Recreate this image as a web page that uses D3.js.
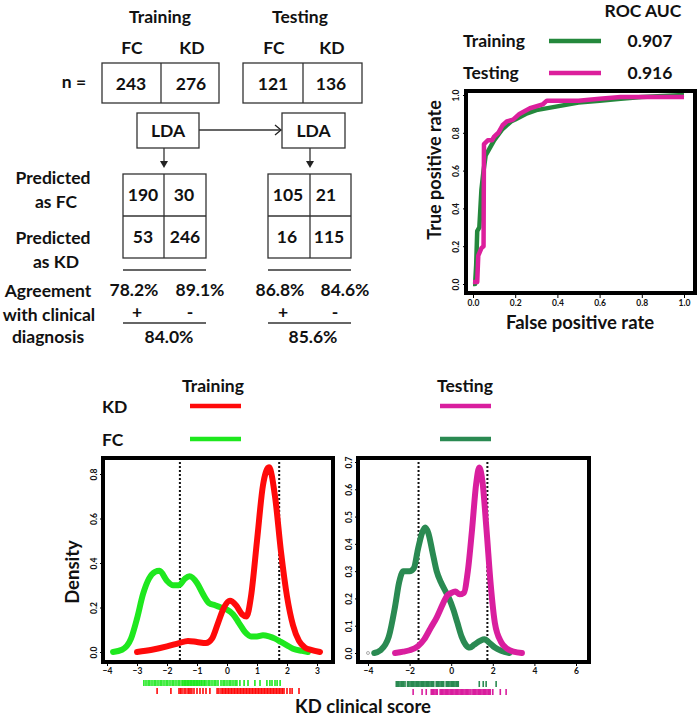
<!DOCTYPE html>
<html><head><meta charset="utf-8">
<script src="https://cdn.jsdelivr.net/npm/d3@7"></script>
<style>body{margin:0;background:#fff}text{font-family:Lato,"Open Sans",sans-serif;font-weight:bold;fill:#111}</style>
</head><body><svg id="c" width="700" height="716"></svg>
<script>
// ---------- data ----------
const groups = ["Training", "Testing"];
const classes = ["FC", "KD"];
const nCounts = [[243, 276], [121, 136]];
const confusion = [[[190, 30], [53, 246]], [[105, 21], [16, 115]]];
const agreement = [["78.2%", "89.1%"], ["86.8%", "84.6%"]];
const overall = ["84.0%", "85.6%"];
const rowLabels = [["Predicted", "as FC"], ["Predicted", "as KD"]];
const agreeLabel = ["Agreement", "with clinical", "diagnosis"];
const rocAUC = ["0.907", "0.916"];
const rocTicks = [0, 0.2, 0.4, 0.6, 0.8, 1.0];
const rocTrain = [[0,0],[0.01,0],[0.015,0.1],[0.02,0.28],[0.03,0.3],[0.04,0.5],[0.05,0.6],[0.06,0.68],[0.08,0.72],[0.1,0.76],[0.12,0.79],[0.14,0.82],[0.16,0.84],[0.18,0.86],[0.2,0.87],[0.25,0.9],[0.3,0.92],[0.4,0.94],[0.5,0.96],[0.6,0.97],[0.7,0.98],[0.8,0.99],[0.9,0.995],[1,1]];
const rocTest = [[0,0.01],[0.02,0.01],[0.025,0.15],[0.04,0.19],[0.05,0.2],[0.052,0.74],[0.07,0.76],[0.09,0.76],[0.1,0.78],[0.12,0.8],[0.14,0.84],[0.16,0.86],[0.19,0.87],[0.22,0.9],[0.27,0.93],[0.33,0.95],[0.35,0.97],[0.5,0.97],[0.6,0.98],[0.7,0.99],[1,0.99]];
const densTrainFC = [[-3.8,0],[-3.5,0.01],[-3.2,0.06],[-3.0,0.15],[-2.8,0.26],[-2.6,0.33],[-2.4,0.36],[-2.25,0.365],[-2.0,0.32],[-1.8,0.30],[-1.6,0.30],[-1.4,0.33],[-1.25,0.34],[-1.0,0.31],[-0.8,0.26],[-0.6,0.22],[-0.4,0.21],[-0.2,0.20],[0,0.19],[0.2,0.17],[0.4,0.13],[0.6,0.09],[0.8,0.07],[1.0,0.07],[1.2,0.075],[1.4,0.07],[1.6,0.06],[1.8,0.045],[2.0,0.03],[2.2,0.015],[2.5,0.005],[2.7,0]];
const densTrainKD = [[-3.0,0],[-2.5,0.01],[-2.0,0.025],[-1.6,0.04],[-1.3,0.05],[-1.0,0.045],[-0.7,0.04],[-0.5,0.06],[-0.3,0.13],[-0.1,0.2],[0.1,0.23],[0.3,0.21],[0.5,0.17],[0.65,0.16],[0.8,0.25],[1.0,0.5],[1.2,0.75],[1.4,0.83],[1.6,0.7],[1.8,0.45],[2.0,0.25],[2.2,0.12],[2.4,0.05],[2.6,0.02],[2.8,0.01],[3.1,0]];
const densTestFC = [[-3.7,0],[-3.4,0.01],[-3.0,0.06],[-2.7,0.17],[-2.5,0.26],[-2.3,0.30],[-2.0,0.30],[-1.8,0.31],[-1.6,0.38],[-1.4,0.44],[-1.25,0.46],[-1.1,0.44],[-0.9,0.37],[-0.7,0.30],[-0.5,0.26],[-0.3,0.23],[-0.1,0.2],[0.1,0.16],[0.3,0.11],[0.5,0.06],[0.7,0.03],[0.9,0.02],[1.1,0.03],[1.4,0.045],[1.6,0.05],[1.8,0.04],[2.1,0.02],[2.4,0.008],[2.8,0]];
const densTestKD = [[-2.7,0],[-2.3,0.005],[-2.0,0.01],[-1.6,0.025],[-1.3,0.05],[-1.0,0.09],[-0.7,0.13],[-0.4,0.18],[-0.2,0.21],[0.0,0.22],[0.2,0.225],[0.4,0.215],[0.6,0.22],[0.8,0.3],[1.0,0.45],[1.2,0.62],[1.35,0.68],[1.5,0.63],[1.7,0.45],[1.9,0.25],[2.1,0.11],[2.4,0.04],[2.7,0.015],[3.0,0.005],[3.4,0]];
const cutoffs = [-1.57, 1.74];
const rugTrainFC = [-2.77,-2.7,-2.63,-2.57,-2.5,-2.43,-2.37,-2.3,-2.23,-2.17,-2.1,-2.03,-1.97,-1.9,-1.83,-1.77,-1.7,-1.63,-1.57,-1.5,-1.47,-1.43,-1.4,-1.37,-1.33,-1.3,-1.27,-1.23,-1.2,-1.17,-1.13,-1.1,-1.07,-1.03,-1.0,-0.97,-0.93,-0.9,-0.85,-0.8,-0.75,-0.7,-0.63,-0.57,-0.5,-0.43,-0.37,-0.3,-0.2,-0.13,-0.07,0.0,0.07,0.13,0.2,0.27,0.33,0.43,0.57,0.7,0.93,1.1,1.33,1.43,1.5,1.6,1.67,1.77];
const rugTrainKD = [-2.33,-1.87,-1.6,-1.55,-1.5,-1.43,-1.37,-1.3,-1.27,-1.23,-1.17,-1.1,-1.0,-0.9,-0.8,-0.7,-0.57,-0.33,-0.27,-0.2,-0.15,-0.1,-0.05,0.0,0.05,0.1,0.15,0.2,0.25,0.3,0.35,0.4,0.45,0.5,0.55,0.6,0.65,0.7,0.75,0.8,0.85,0.9,0.95,1.0,1.05,1.1,1.15,1.2,1.25,1.3,1.35,1.4,1.45,1.5,1.55,1.6,1.65,1.7,1.75,1.8,1.85,1.9,2.0,2.1,2.17,2.4];
const rugTestFC = [-2.64,-2.58,-2.52,-2.46,-2.4,-2.34,-2.28,-2.22,-2.1,-2.04,-1.98,-1.92,-1.86,-1.8,-1.74,-1.68,-1.62,-1.56,-1.5,-1.44,-1.38,-1.32,-1.26,-1.2,-1.14,-1.08,-1.02,-0.96,-0.9,-0.84,-0.72,-0.66,-0.6,-0.54,-0.48,-0.42,-0.36,-0.24,-0.18,-0.12,-0.06,0.0,0.06,0.12,0.18,0.24,0.3,0.34,1.35,1.54,1.68,2.16];
const rugTestKD = [-1.83,-1.4,-1.2,-0.96,-0.9,-0.84,-0.78,-0.72,-0.67,-0.53,-0.47,-0.41,-0.35,-0.29,-0.23,-0.17,-0.11,-0.05,0.01,0.07,0.13,0.19,0.25,0.31,0.37,0.43,0.49,0.55,0.61,0.67,0.73,0.79,0.85,0.91,1.0,1.06,1.12,1.18,1.24,1.3,1.36,1.42,1.48,1.54,1.6,1.66,1.72,1.78,1.84,1.88,2.0,2.36,2.64];
const trainTicksX = [-4,-3,-2,-1,0,1,2,3];
const trainTicksY = [0,0.2,0.4,0.6,0.8];
const testTicksX = [-4,-2,0,2,4,6];
const testTicksY = [0,0.1,0.2,0.3,0.4,0.5,0.6,0.7];

const C = {trFC:"#1ee81e", trKD:"#ff0a0a", teFC:"#2a8a52", teKD:"#d91e9e", rocTr:"#24883c", rocTe:"#dc1f9c"};
const FS = 17.5;

const svg = d3.select("#c");
svg.append("rect").attr("width",700).attr("height",716).attr("fill","#fff");

function txt(x, y, s, size, anchor="middle", g=svg) {
  return g.append("text").attr("x",x).attr("y",y).attr("font-size",size).attr("text-anchor",anchor).text(s);
}
function box(x0,y0,x1,y1){
  svg.append("rect").attr("x",x0).attr("y",y0).attr("width",x1-x0).attr("height",y1-y0)
    .attr("fill","none").attr("stroke","#333").attr("stroke-width",1.3);
}
function hline(x0,x1,y,w=1.3,col="#333"){svg.append("line").attr("x1",x0).attr("x2",x1).attr("y1",y).attr("y2",y).attr("stroke",col).attr("stroke-width",w);}
function vline(x,y0,y1,w=1.3,col="#333"){svg.append("line").attr("x1",x).attr("x2",x).attr("y1",y0).attr("y2",y1).attr("stroke",col).attr("stroke-width",w);}

// ---------- schematic ----------
const sch = [
  {title:160, cls:[132,192], nb:[102,161,219], nv:[131,191], lda:[137,199], arrowX:164, cm:[123,164,206], cv:[[143,184],[143,185]], ag:[134,200], pm:[137,190], ov:169},
  {title:300, cls:[274,332], nb:[243,303,362], nv:[273,331], lda:[282,345], arrowX:310, cm:[268,310,351], cv:[[288,326],[287,329]], ag:[280,345], pm:[283,335], ov:313}
];
groups.forEach((gname, gi) => {
  const L = sch[gi];
  txt(L.title, 23, gname, FS);
  classes.forEach((c, ci) => txt(L.cls[ci], 54, c, FS));
  box(L.nb[0], 63, L.nb[2], 103); vline(L.nb[1], 63, 103);
  nCounts[gi].forEach((v, ci) => txt(L.nv[ci], 90, v, FS));
  box(L.lda[0], 113, L.lda[1], 148);
  txt((L.lda[0]+L.lda[1])/2, 137, "LDA", FS);
  vline(L.arrowX, 148, 162);
  svg.append("path").attr("d",`M${L.arrowX-4},161L${L.arrowX+4},161L${L.arrowX},168Z`).attr("fill","#222");
  box(L.cm[0], 174, L.cm[2], 258); vline(L.cm[1], 174, 258); hline(L.cm[0], L.cm[2], 216);
  confusion[gi].forEach((row, ri) => row.forEach((v, ci) => txt(L.cv[ri][ci], ri === 0 ? 201 : 243, v, FS)));
  hline(L.cm[0], L.cm[2], 270);
  agreement[gi].forEach((v, ci) => txt(L.ag[ci], 296, v, FS));
  txt(L.pm[0], 318, "+", FS); txt(L.pm[1], 318, "-", FS);
  hline(L.cm[0], L.cm[2], 323);
  txt(L.ov, 343, overall[gi], FS);
});
txt(74, 88, "n =", FS);
hline(199, 281, 130);
svg.append("path").attr("d","M275,125L281,130L275,135").attr("fill","none").attr("stroke","#222").attr("stroke-width",1.3);
txt(53, 184, rowLabels[0][0], FS); txt(56, 208, rowLabels[0][1], FS);
txt(53, 244, rowLabels[1][0], FS); txt(56, 268, rowLabels[1][1], FS);
txt(48, 297, agreeLabel[0], FS); txt(49, 321, agreeLabel[1], FS); txt(48, 343, agreeLabel[2], FS);

// ---------- ROC ----------
const rx = d3.scaleLinear().domain([0,1]).range([473,684]);
const ry = d3.scaleLinear().domain([0,1]).range([284,95]);
txt(643, 17, "ROC AUC", FS);
[[rocTrain, C.rocTr], [rocTest, C.rocTe]].forEach(([_, col], i) => {
  const yy = i === 0 ? 41 : 73;
  txt(463, yy + 6, groups[i], FS, "start");
  hline(549, 601, yy, 4.5, col);
  txt(650, yy + 6, rocAUC[i], FS);
});
const rline = d3.line().x(d => rx(d[0])).y(d => ry(d[1]));
svg.append("path").attr("d", rline(rocTrain)).attr("fill","none").attr("stroke",C.rocTr).attr("stroke-width",4.5).attr("stroke-linejoin","round");
svg.append("path").attr("d", rline(rocTest)).attr("fill","none").attr("stroke",C.rocTe).attr("stroke-width",4.5).attr("stroke-linejoin","round");
svg.append("rect").attr("x",466).attr("y",91).attr("width",229).attr("height",202).attr("fill","none").attr("stroke","#000").attr("stroke-width",4);
function axisB(scale, ticks, y, fmt) {
  const g = svg.append("g").attr("transform",`translate(0,${y})`)
    .call(d3.axisBottom(scale).tickValues(ticks).tickSize(3).tickPadding(2).tickFormat(fmt));
  g.select(".domain").remove();
  g.selectAll("text").attr("font-size",8.5).style("font-family","Lato, sans-serif").style("font-weight","bold");
  g.selectAll("line").attr("stroke","#000");
  return g;
}
function axisL(scale, ticks, x, fmt, off) {
  const g = svg.append("g").attr("transform",`translate(${x},0)`)
    .call(d3.axisLeft(scale).tickValues(ticks).tickSize(3).tickFormat(fmt));
  g.select(".domain").remove();
  g.selectAll("text").attr("x",0).attr("dy",0).attr("text-anchor","middle")
    .attr("transform",`translate(${-off},0) rotate(-90)`)
    .attr("font-size",8.5).style("font-family","Lato, sans-serif").style("font-weight","bold");
  g.selectAll("line").attr("stroke","#000");
  return g;
}
axisB(rx, rocTicks, 295, d3.format(".1f"));
axisL(ry, rocTicks, 466, d3.format(".1f"), 7);
txt(580, 329, "False positive rate", 18.5);
svg.append("text").attr("transform","translate(441,170) rotate(-90)").attr("font-size",18).attr("text-anchor","middle").text("True positive rate");

// ---------- densities ----------
const panels = [
  {x: d3.scaleLinear().domain([-4,3]).range([107,317]), y: d3.scaleLinear().domain([0,0.8]).range([652,474]),
   frame:[103,458,333,662], fc:densTrainFC, kd:densTrainKD, rugFC:rugTrainFC, rugKD:rugTrainKD, cFC:C.trFC, cKD:C.trKD,
   tx:trainTicksX, ty:trainTicksY, fy:d3.format(".1f"), title:213},
  {x: d3.scaleLinear().domain([-4,6]).range([368,576]), y: d3.scaleLinear().domain([0,0.7]).range([653,462]),
   frame:[358,458,589,662], fc:densTestFC, kd:densTestKD, rugFC:rugTestFC, rugKD:rugTestKD, cFC:C.teFC, cKD:C.teKD,
   tx:testTicksX, ty:testTicksY, fy:d3.format(".1f"), title:465}
];
txt(102, 413, classes[1], FS, "start");
txt(102, 446, classes[0], FS, "start");
panels.forEach((P, pi) => {
  txt(P.title, 392, groups[pi], FS);
  const lx0 = pi === 0 ? 190 : 440;
  hline(lx0, lx0 + 51, 406, 4.5, P.cKD);
  hline(lx0, lx0 + 51, 439, 4.5, P.cFC);
  const [fx0, fy0, fx1, fy1] = P.frame;
  cutoffs.forEach(c => svg.append("line").attr("x1",P.x(c)).attr("x2",P.x(c)).attr("y1",fy0).attr("y2",fy1)
    .attr("stroke","#111").attr("stroke-width",2).attr("stroke-dasharray","2,2"));
  const ln = d3.line().x(d => P.x(d[0])).y(d => P.y(d[1])).curve(d3.curveMonotoneX);
  svg.append("path").attr("d", ln(P.fc)).attr("fill","none").attr("stroke",P.cFC).attr("stroke-width",6).attr("stroke-linecap","round");
  svg.append("path").attr("d", ln(P.kd)).attr("fill","none").attr("stroke",P.cKD).attr("stroke-width",6).attr("stroke-linecap","round");
  svg.append("rect").attr("x",fx0).attr("y",fy0).attr("width",fx1-fx0).attr("height",fy1-fy0)
    .attr("fill","none").attr("stroke","#000").attr("stroke-width",4);
  axisB(P.x, P.tx, fy1 + 1, d3.format("d"));
  axisL(P.y, P.ty, fx0, P.fy, 6);
  const gy = pi === 0 ? 680 : 681;
  svg.append("g").selectAll("line").data(P.rugFC).join("line")
    .attr("x1", d => P.x(d)).attr("x2", d => P.x(d)).attr("y1", gy).attr("y2", gy + 6)
    .attr("stroke", P.cFC).attr("stroke-width", 1.6);
  svg.append("g").selectAll("line").data(P.rugKD).join("line")
    .attr("x1", d => P.x(d)).attr("x2", d => P.x(d)).attr("y1", gy + 8).attr("y2", gy + 14)
    .attr("stroke", P.cKD).attr("stroke-width", 1.6);
});
txt(363, 713, "KD clinical score", 18.5);
svg.append("text").attr("transform","translate(79,572) rotate(-90)").attr("font-size",18.5).attr("text-anchor","middle").text("Density");
svg.append("circle").attr("cx",panels[1].x(-4)).attr("cy",panels[1].y(0)).attr("r",1.5).attr("fill","none").attr("stroke","#999").attr("stroke-width",0.8);
</script></body></html>
